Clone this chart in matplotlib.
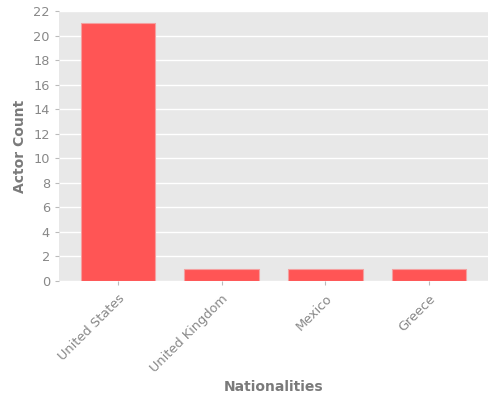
import matplotlib
matplotlib.use("Agg")
import matplotlib.pyplot as plt

categories = ["United States", "United Kingdom", "Mexico", "Greece"]
counts = [21, 1, 1, 1]

fig = plt.figure(figsize=(5, 4), dpi=100)
ax = fig.add_axes([0.118, 0.2975, 0.858, 0.675])
ax.set_facecolor("#E8E8E8")
ax.bar(categories, counts, width=0.72, color="#FF5555", edgecolor="#F4A0A0", linewidth=0.8, zorder=3)
ax.set_xlim(-0.57, 3.57)
ax.set_ylim(0, 22)
ax.set_yticks(range(0, 23, 2))
ax.grid(axis="y", color="white", linewidth=1, zorder=0)
ax.grid(axis="x", visible=False)
for s in ax.spines.values():
    s.set_visible(False)
ax.tick_params(colors="#BBBBBB", labelcolor="#888888", labelsize=9.3, length=3)
ax.tick_params(axis="x", pad=5)
plt.setp(ax.get_xticklabels(), rotation=45, ha="right", rotation_mode="anchor")
ax.set_ylabel("Actor Count", color="#7A7A7A", fontsize=10, fontweight="bold", labelpad=5)
ax.set_xlabel("Nationalities", color="#7A7A7A", fontsize=10, fontweight="bold", labelpad=4)
fig.savefig("out.png", dpi=100)
